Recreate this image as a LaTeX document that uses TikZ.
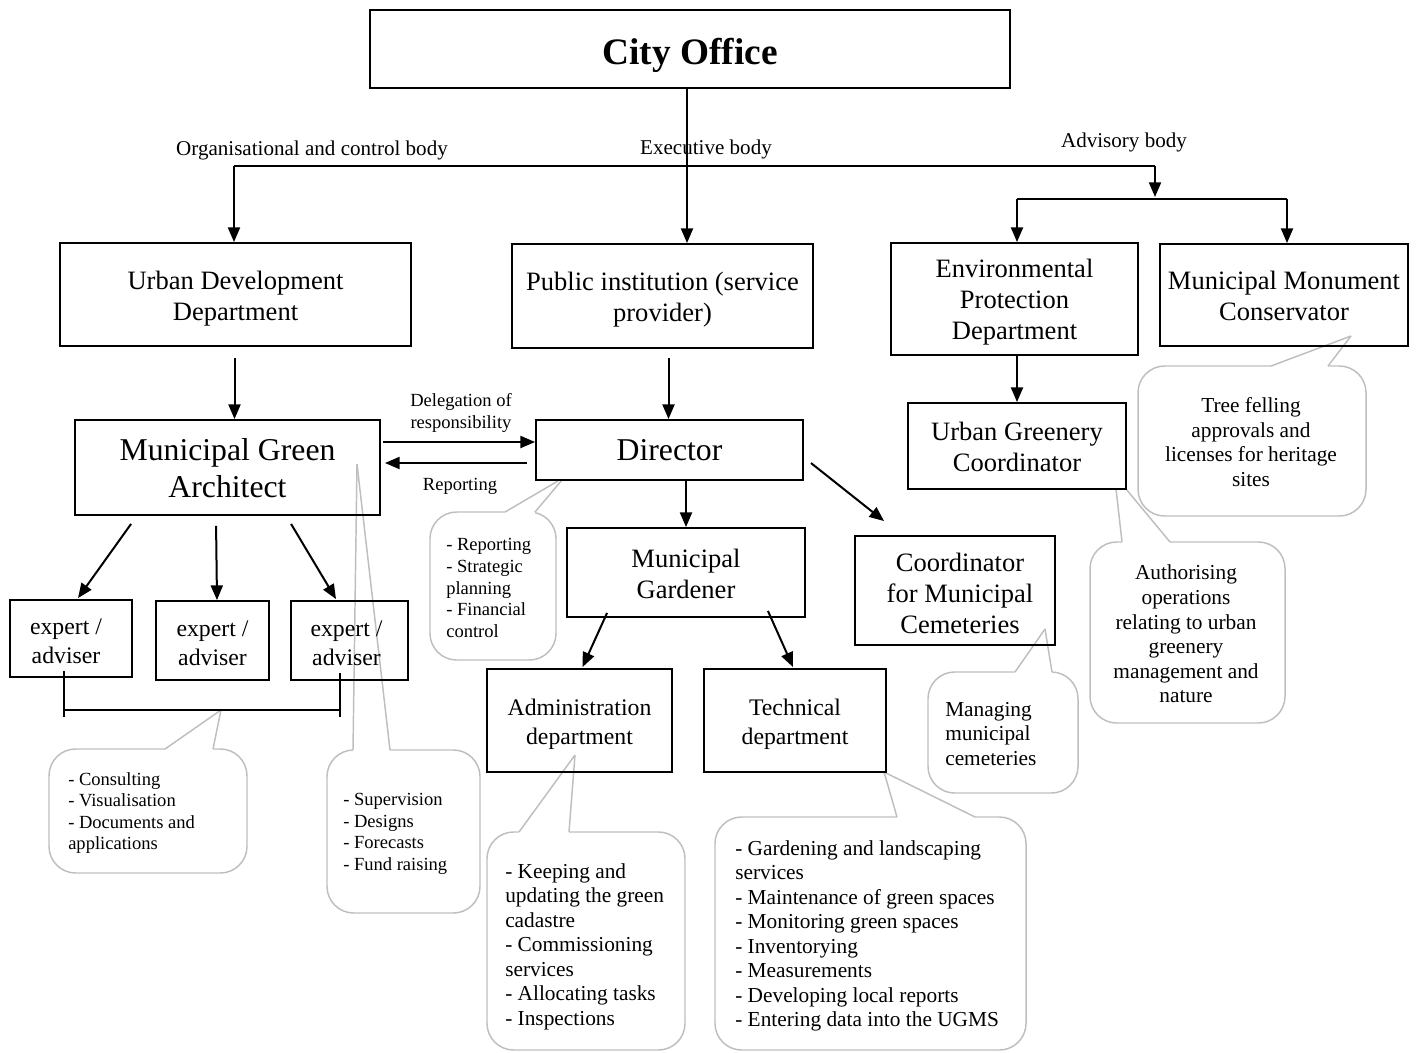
\documentclass[tikz,border=0pt]{standalone}
\usepackage{fontspec}
\setmainfont{Liberation Serif}
\usetikzlibrary{arrows.meta,calc}
\definecolor{bubgray}{RGB}{190,190,190}
\newcommand\mybubble[8]{%
  \draw[bub, rounded corners=20pt] (#1,#2) rectangle (#3,#4);
  \draw[white, line width=2.6pt] (#5,#2) -- (#6,#2);
  \draw[bub] (#5,#2) -- (#7);
  \draw[bub] (#6,#2) -- (#8);
}
\newcommand\mybox[7][]{%
  \node[box, sz={#4}{#5}] (#2) at (#3) {};
  \node[boxtxt, #1] (#2-t) at ($(#2.center)+(#6)$) {#7};
}
\begin{document}
\begin{tikzpicture}[x=0.75pt,y=-0.75pt,
  box/.style={draw=black, line width=1.4pt, inner sep=0pt},
  boxtxt/.style={inner sep=0pt, align=center, font=\fontsize{19.9}{23.25}\selectfont},
  sz/.style 2 args={minimum width=#1*0.75pt, minimum height=#2*0.75pt},
  bigtxt/.style={font=\fontsize{23.8}{27.75}\selectfont},
  midtxt/.style={font=\fontsize{17.8}{21.75}\selectfont},
  lab/.style={inner sep=0pt, font=\fontsize{15.8}{18}\selectfont},
  smalltxt/.style={inner sep=0pt, font=\fontsize{13.9}{16.2}\selectfont},
  bubtxt/.style={inner sep=0pt, font=\fontsize{16}{18.4}\selectfont},
  bub/.style={draw=bubgray, line width=1.1pt},
  arr/.style={line width=1.5pt, -{Triangle[length=11pt,width=9pt]}},
  ln/.style={line width=1.5pt}]
\useasboundingbox (0,0) rectangle (1419,1052);

% callouts (drawn first)
\mybubble{430}{512}{556}{660}{505}{535}{558,481}{562,480}
\mybubble{49}{749}{247}{873}{165}{213}{221,710}{221,710}
\mybubble{327}{750}{480}{913}{353}{390}{357,464}{357,464}
\mybubble{487}{832}{685}{1050}{519}{569}{575,755}{575,755}
\mybubble{715}{817}{1026}{1050}{897}{975}{884,772}{884,772}
\mybubble{928}{672}{1078}{793}{1015}{1052}{1045,629}{1045,629}
\mybubble{1090}{542}{1285}{723}{1122}{1170}{1116,489}{1126,489}
\mybubble{1138}{366}{1366}{516}{1271}{1328}{1351,336}{1351,336}

% boxes
\mybox[font=\fontsize{28}{32}\selectfont\bfseries]{city}{690,49}{640}{78}{0,6}{City Office}
\mybox{udd}{235.5,294.5}{351}{103}{0,4}{Urban Development\\Department}
\mybox{pub}{662.5,296}{301}{104}{0,4}{Public institution (service\\provider)}
\mybox{env}{1014.5,299}{247}{112}{0,3}{Environmental\\Protection\\Department}
\mybox{mmc}{1284,295}{248}{102}{0,1}{Municipal Monument\\Conservator}
\mybox[bigtxt]{mga}{227.5,467.5}{305}{95}{0,1}{Municipal Green\\Architect}
\mybox[bigtxt]{dir}{669.5,450}{267}{60}{0,0}{Director}
\mybox{ugc}{1017,446}{218}{86}{0,1}{Urban Greenery\\Coordinator}
\mybox{mg}{686,572.5}{238}{89}{0,1}{Municipal\\Gardener}
\mybox{cem}{955,590.5}{200}{109}{5,3}{Coordinator\\for Municipal\\Cemeteries}
\mybox[midtxt]{adm}{579.5,720.5}{185}{103}{0,4}{Administration\\department}
\mybox[midtxt]{tech}{795,720.5}{182}{103}{0,4}{Technical\\department}
\mybox[midtxt]{e1}{71,638.5}{122}{77}{-5,3}{expert /\\adviser}
\mybox[midtxt]{e2}{212.5,640.5}{113}{79}{0,3}{expert /\\adviser}
\mybox[midtxt]{e3}{349.5,640.5}{117}{79}{-3,3}{expert /\\adviser}

% labels
\node[lab] (l1) at (312,150) {Organisational and control body};
\node[lab] (l2) at (706,149) {Executive body};
\node[lab] (l3) at (1124,142) {Advisory body};
\node[smalltxt, align=center] (l4) at (461,413) {Delegation of\\responsibility};
\node[smalltxt] (l5) at (460,486) {Reporting};

% callout texts
\node[smalltxt, align=left, anchor=west] (c1) at (446,588) {- Reporting\\- Strategic\\planning\\- Financial\\control};
\node[smalltxt, align=left, anchor=west] (c2) at (68,813) {- Consulting\\- Visualisation\\- Documents and\\applications};
\node[smalltxt, align=left, anchor=west] (c3) at (343,834) {- Supervision\\- Designs\\- Forecasts\\- Fund raising};
\node[bubtxt, align=left, anchor=west] (c4) at (505,946.5) {- Keeping and\\updating the green\\cadastre\\- Commissioning\\services\\- Allocating tasks\\- Inspections};
\node[bubtxt, align=left, anchor=west] (c5) at (735,936) {- Gardening and landscaping\\services\\- Maintenance of green spaces\\- Monitoring green spaces\\- Inventorying\\- Measurements\\- Developing local reports\\- Entering data into the UGMS};
\node[bubtxt, align=left, anchor=west] (c6) at (945,734) {Managing\\municipal\\cemeteries};
\node[bubtxt, align=center] (c7) at (1186,634) {Authorising\\operations\\relating to urban\\greenery\\management and\\nature};
\node[bubtxt, align=center] (c8) at (1251,442) {Tree felling\\approvals and\\licenses for heritage\\sites};

% top connectors
\coordinate (j1) at (687,166);
\coordinate (jl) at (234,166);
\coordinate (jr) at (1155,166);
\coordinate (ja) at (1155,197);
\coordinate (ka) at (1017,199);
\coordinate (kb) at (1287,199);
\draw[line width=0.8pt] (city.south -| j1) -- (j1);
\draw[ln] (jl) -- (jr);
\draw[arr] (jl) -- (udd.north -| jl);
\draw[arr] (j1) -- (pub.north -| j1);
\draw[arr] (jr) -- (ja);
\draw[ln] (ka) -- (kb);
\draw[arr] (ka) -- (env.north -| ka);
\draw[arr] (kb) -- (mmc.north -| kb);

% second level
\draw[arr] ($(udd.south)+(-1,11)$) coordinate (s1) -- (s1 |- mga.north);
\draw[arr] ($(dir.north |- pub.south)+(-1,9)$) coordinate (s2) -- (s2 |- dir.north);
\draw[arr] (ugc.north |- env.south) -- (ugc.north);

\coordinate (dl) at (0,442);
\coordinate (rl) at (0,463);
\draw[arr] ($(mga.east |- dl)+(2,0)$) -- (dir.west |- dl);
\draw[arr] ($(dir.west |- rl)+(-8,0)$) -- ($(mga.east |- rl)+(4,0)$);

\draw[arr] (mg.north |- dir.south) -- (mg.north);
\draw[arr] ($(dir.east)+(7,13)$) -- ($(cem.north west)+(30,-14)$);
\draw[arr] ($(mg.south west)+(41,-5)$) -- ($(adm.north)+(3,-1)$);
\draw[arr] ($(mg.south east)+(-38,-7)$) -- ($(tech.north)+(-2,-1)$);

\draw[arr] ($(mga.south west)+(57,8)$) -- ($(e1.north)+(7,-1)$);
\draw[arr] ($(mga.south west)+(142,10)$) -- ($(e2.north)+(4.5,0)$);
\draw[arr] ($(mga.south west)+(217,8)$) -- ($(e3.north)+(-13.5,-1)$);

% bracket
\draw[ln] ($(e1.south)+(-7,-7)$) -- ++(0,46);
\draw[ln] ($(e3.south)+(-9.5,-8)$) -- ++(0,44);
\draw[ln] ($(e1.south)+(-7,32)$) -- ($(e3.south)+(-9.5,29)$);
\end{tikzpicture}
\end{document}
